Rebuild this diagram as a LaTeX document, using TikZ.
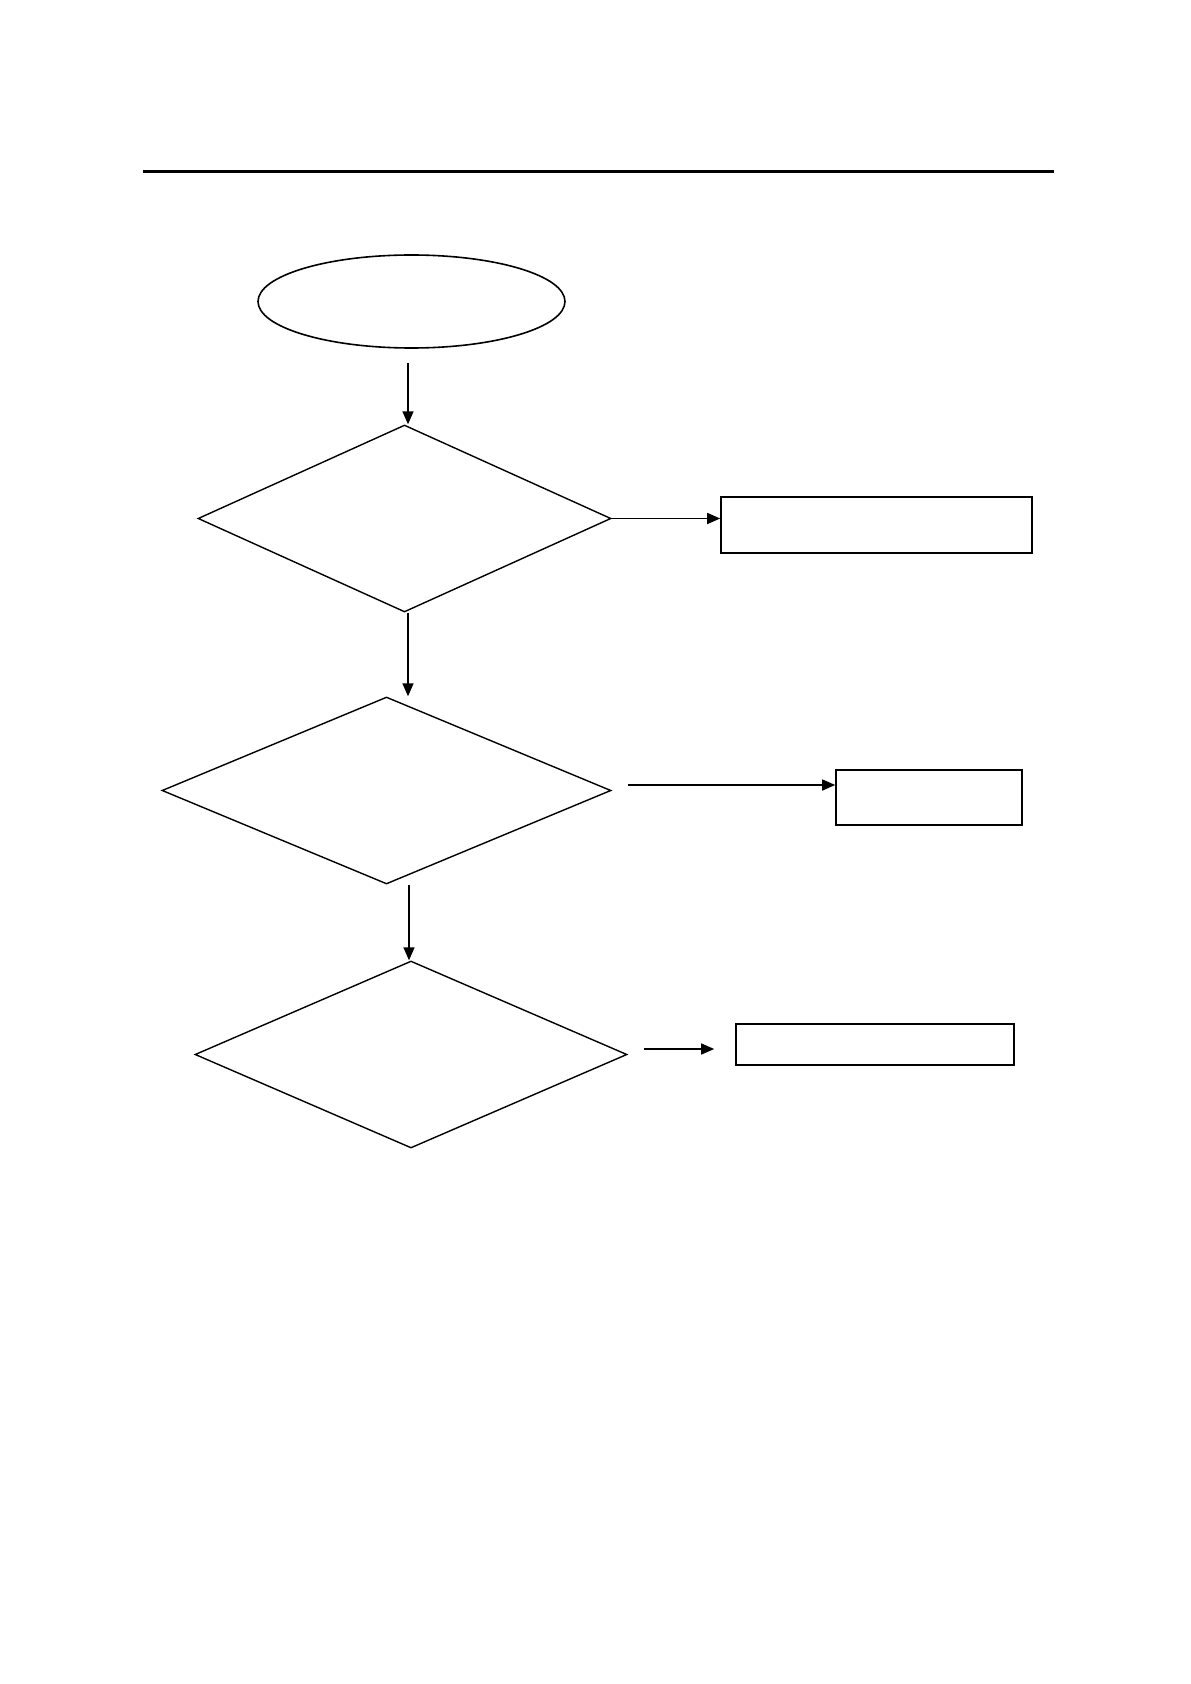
\documentclass[tikz,border=0pt]{standalone}
\usepackage{tikz}
\usetikzlibrary{arrows.meta,positioning,shapes.geometric}
\tikzset{
  kezdet/.style={draw,ellipse,line width=0.8pt,inner sep=0pt,minimum width=153.5pt,minimum height=46.5pt},
  dontes/.style={draw,diamond,line width=0.7pt,inner sep=0pt,minimum height=93.5pt},
  doboz/.style={draw,rectangle,line width=0.8pt,inner sep=0pt},
  nyil/.style={-{Triangle[length=6.5pt,width=5.5pt]},line width=0.75pt},
  vonal/.style={line width=1.5pt},
}
\begin{document}
\begin{tikzpicture}[x=0.5pt,y=-0.5pt]
  \useasboundingbox (0,0) rectangle (1190,1684);
  \draw[vonal] (143,172) -- (1054,172);
  \node[kezdet] (E) at (411.5,301.5) {};
  \node[dontes,minimum width=206.5pt] (D1) at (404.5,518.5) {};
  \node[dontes,minimum width=224.5pt] (D2) at (386.5,790.5) {};
  \node[dontes,minimum width=216pt] (D3) at (411,1054.5) {};
  \node[doboz,minimum width=155.5pt,minimum height=28pt] (B1) at (876.5,525) {};
  \node[doboz,minimum width=93pt,minimum height=27.5pt] (B2) at (929,797.5) {};
  \node[doboz,minimum width=139pt,minimum height=20.5pt] (B3) at (875,1044.5) {};
  \draw[nyil,shorten <=7pt] ([xshift=1.75pt]E.south -| D1.north) -- ([xshift=1.75pt]D1.north);
  \draw[nyil] ([xshift=1.75pt]D1.south) -- ([xshift=1.75pt]D1.south |- D2.north);
  \draw[nyil] ([xshift=-1pt]D3.north |- D2.south) -- ([xshift=-1pt]D3.north);
  \draw[nyil] (D1.east) -- (D1.east -| B1.west);
  \draw[nyil] ([xshift=8pt,yshift=2.75pt]D2.east) -- ([yshift=2.75pt]D2.east -| B2.west);
  \draw[nyil,shorten >=10.5pt] ([xshift=8pt,yshift=2.75pt]D3.east) -- ([yshift=2.75pt]D3.east -| B3.west);
\end{tikzpicture}
\end{document}
